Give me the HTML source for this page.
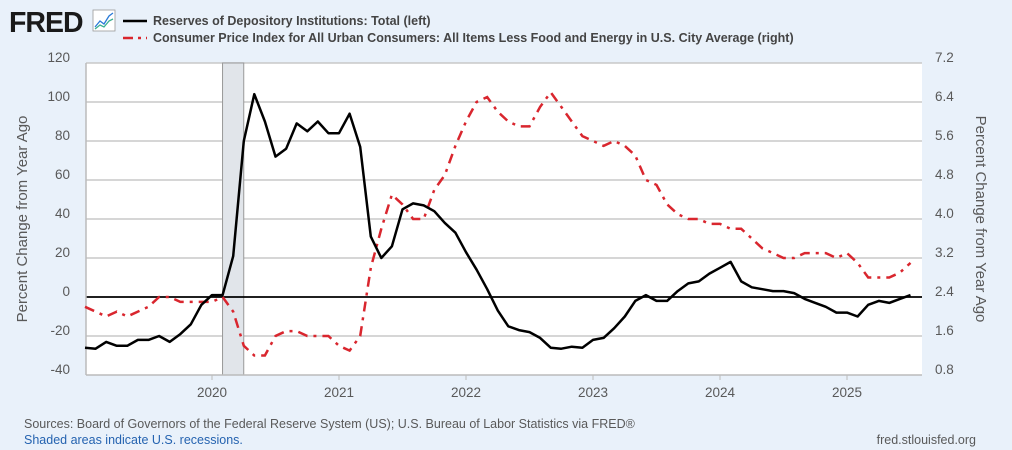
<!DOCTYPE html>
<html><head><meta charset="utf-8"><style>
body{margin:0;background:#e9f1fa;font-family:"Liberation Sans",sans-serif;}
svg{display:block}
</style></head><body>
<svg width="1012" height="450" id="c">
<rect width="1012" height="450" fill="#e9f1fa"/>
<text x="9" y="32" font-size="28.5" font-weight="bold" fill="#1a1a1a" letter-spacing="-1">FRED</text>
<g><rect x="93" y="10" width="22" height="21" fill="#fff" stroke="#999" stroke-width="0.8"/>
<polyline points="95,27 100,21 104,24 109,16 113,13" fill="none" stroke="#2b7bd8" stroke-width="1.3"/><polyline points="95,29 100,25 104,27 109,21 113,19" fill="none" stroke="#3bb08f" stroke-width="1.3"/></g>
<g><line x1="123" y1="21" x2="147" y2="21" stroke="#000" stroke-width="2.5"/><text x="153" y="25" font-size="12.5" font-weight="bold" fill="#444">Reserves of Depository Institutions: Total (left)</text></g>
<g><line x1="123" y1="38" x2="147" y2="38" stroke="#d9262e" stroke-width="2.5" stroke-dasharray="10,5,3,5"/><text x="153" y="42" font-size="12.5" font-weight="bold" fill="#444">Consumer Price Index for All Urban Consumers: All Items Less Food and Energy in U.S. City Average (right)</text></g>
<rect x="86" y="63" width="836" height="312" fill="#fff"/>
<g id="grid"></g><g id="rec"></g><g id="axes"></g><g id="series"></g>
<text transform="translate(27,219) rotate(-90)" text-anchor="middle" font-size="15" fill="#595959">Percent Change from Year Ago</text>
<text transform="translate(976,219) rotate(90)" text-anchor="middle" font-size="15" fill="#595959">Percent Change from Year Ago</text>
<text x="24" y="428" font-size="12.5" fill="#595959">Sources: Board of Governors of the Federal Reserve System (US); U.S. Bureau of Labor Statistics via FRED®</text>
<text x="24" y="444" font-size="12.5" fill="#2563b0">Shaded areas indicate U.S. recessions.</text>
<text x="976" y="444" text-anchor="end" font-size="12.5" fill="#595959">fred.stlouisfed.org</text>
</svg>
<script>
const reserves=[-26,-26.5,-23,-25,-25,-22,-22,-20,-23,-19,-14,-4,
1,1,21,80,104,90,72,76,89,85,90,84,
84,94,77,31,20,26,45,48,47,44,38,33,
23,14,4,-7,-15,-17,-18,-21,-26,-26.5,-25.5,-26,
-22,-21,-16,-10,-2,1,-2,-2,3,7,8,12,
15,18,8,5,4,3,3,2,-1,-3,-5,-8,
-8,-10,-4,-2,-3,-1,1];
const cpi=[2.2,2.1,2.0,2.1,2.0,2.1,2.2,2.4,2.4,2.3,2.3,2.3,
2.3,2.4,2.1,1.4,1.2,1.2,1.6,1.7,1.7,1.6,1.6,1.6,
1.4,1.3,1.6,3.0,3.8,4.5,4.3,4.0,4.0,4.6,4.9,5.5,
6.0,6.4,6.5,6.2,6.0,5.9,5.9,6.3,6.6,6.3,6.0,5.7,
5.6,5.5,5.6,5.5,5.3,4.8,4.7,4.3,4.1,4.0,4.0,3.9,
3.9,3.8,3.8,3.6,3.4,3.3,3.2,3.2,3.3,3.3,3.3,3.2,
3.3,3.1,2.8,2.8,2.8,2.9,3.1];
const leftTicks=[-40,-20,0,20,40,60,80,100,120];
const rightTicks=[0.8,1.6,2.4,3.2,4.0,4.8,5.6,6.4,7.2];
const years=[2020,2021,2022,2023,2024,2025];
const recessions=[[2020.083,2020.25]];
const startYear=2019.0;
const NS='http://www.w3.org/2000/svg';
const X0=86,X1=922,Y0=63,Y1=375;
const xS=t=>212+(t-2020)*127;
const yL=v=>Y1-(v+40)/160*(Y1-Y0);
const yR=v=>Y1-(v-0.8)/6.4*(Y1-Y0);
const mk=(p,tag,a)=>{const e=document.createElementNS(NS,tag);for(const k in a)e.setAttribute(k,a[k]);p.appendChild(e);return e;};
const g=document.getElementById('grid'),ax=document.getElementById('axes'),rc=document.getElementById('rec'),se=document.getElementById('series');
leftTicks.forEach((v,i)=>{
 const y=yL(v);
 if(v!==-40&&v!==0){const l=mk(g,'line',{x1:X0,x2:X1,y1:y,y2:y,stroke:'#c8c8c8','stroke-width':1.5});
 
 }
 const t=mk(ax,'text',{x:70,y:y-1,'text-anchor':'end','font-size':13.5,fill:'#595959'});t.textContent=v;
 
 
});
rightTicks.forEach(v=>{
 const t=mk(ax,'text',{x:935,y:yR(v)-1,'font-size':13.5,fill:'#595959'});t.textContent=v.toFixed(1);
 
 
});
recessions.forEach(r=>{
 const e=mk(rc,'rect',{x:xS(r[0]),y:Y0,width:xS(r[1])-xS(r[0]),height:Y1-Y0,fill:'#e1e5ea',stroke:'#999','stroke-width':1});
 
 
});
const zl=mk(ax,'line',{x1:X0,x2:X1,y1:yL(0),y2:yL(0),stroke:'#000','stroke-width':1.8});


const xa=mk(ax,'line',{x1:X0,x2:X1,y1:Y1,y2:Y1,stroke:'#bbb','stroke-width':1.5});


const ya=mk(ax,'line',{x1:X0,x2:X0,y1:Y0,y2:Y1,stroke:'#bbb','stroke-width':1.5});


years.forEach(yr=>{
 const x=xS(yr);
 const tk=mk(ax,'line',{x1:x,x2:x,y1:Y1,y2:Y1+5,stroke:'#bbb'});
 
 
 const t=mk(ax,'text',{x:x,y:Y1+22,'text-anchor':'middle','font-size':13.5,fill:'#595959'});t.textContent=yr;
 
 
});
const pts=(arr,ys)=>arr.map((v,i)=>xS(startYear+i/12).toFixed(1)+','+ys(v).toFixed(1)).join(' ');
const c=mk(se,'polyline',{points:pts(cpi,yR),fill:'none',stroke:'#d9262e','stroke-width':2.5,'stroke-dasharray':'10,6,3,6'});


const r=mk(se,'polyline',{points:pts(reserves,yL),fill:'none',stroke:'#000','stroke-width':2.5,'stroke-linejoin':'round'});


</script>
</body></html>
